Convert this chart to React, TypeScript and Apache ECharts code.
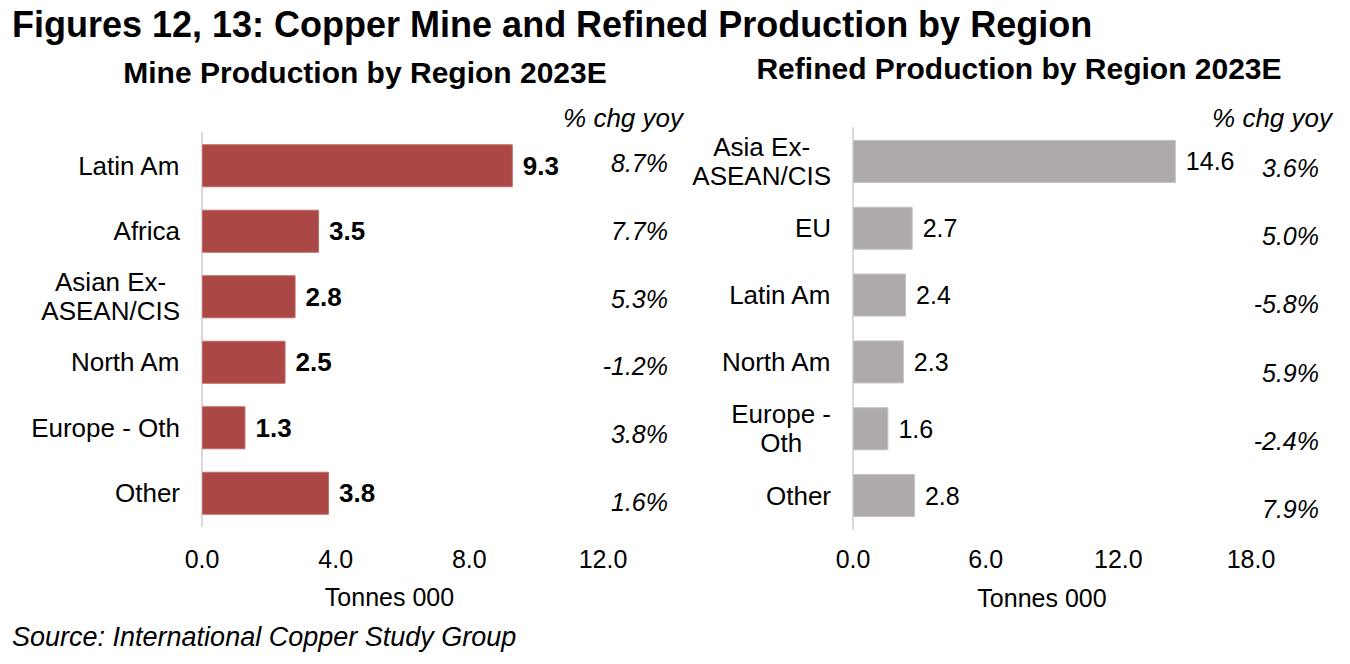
import React, { useEffect, useRef } from "react";
import * as echarts from "echarts";

const mineCategories = ["Latin Am", "Africa", "Asian Ex-\nASEAN/CIS", "North Am", "Europe - Oth", "Other"];
const mineValues = [9.3, 3.5, 2.8, 2.5, 1.3, 3.8];
const mineChange = ["8.7%", "7.7%", "5.3%", "-1.2%", "3.8%", "1.6%"];

const refinedCategories = ["Asia Ex-\nASEAN/CIS", "EU", "Latin Am", "North Am", "Europe -\nOth", "Other"];
const refinedValues = [14.6, 2.7, 2.4, 2.3, 1.6, 2.8];
const refinedChange = ["3.6%", "5.0%", "-5.8%", "5.9%", "-2.4%", "7.9%"];

const mineTicks = { min: 0, max: 12, interval: 4 };
const refinedTicks = { min: 0, max: 18, interval: 6 };

const FONT = '"Liberation Sans", Arial, Helvetica, sans-serif';

export default function App() {
  const ref = useRef<HTMLDivElement>(null);

  useEffect(() => {
    document.body.style.margin = "0";
    const chart = echarts.init(ref.current!, null, { renderer: "svg" });

    const catFormatter = (v: string) =>
      v
        .split("\n")
        .map((s) => `{c|${s}}`)
        .join("\n");

    const catLabel = {
      fontSize: 26,
      color: "#000",
      fontFamily: FONT,
      align: "right" as const,
      margin: 22,
      lineHeight: 29,
      formatter: catFormatter,
      rich: { c: { fontSize: 26, color: "#000", fontFamily: FONT, align: "center", lineHeight: 29 } },
    };

    const tickLabel = (margin: number) => ({
      fontSize: 25,
      color: "#000",
      fontFamily: FONT,
      margin,
      formatter: (v: number) => v.toFixed(1),
    });

    const option: any = {
      animation: false,
      backgroundColor: "#fff",
      textStyle: { fontFamily: FONT },
      grid: [
        { left: 202, top: 133, width: 401, height: 393 },
        { left: 853, top: 128, width: 398, height: 401 },
        { left: 668, top: 129, width: 1, height: 407 },
        { left: 1319, top: 134, width: 1, height: 409 },
      ],
      xAxis: [
        {
          type: "value",
          gridIndex: 0,
          ...mineTicks,
          axisLine: { show: false },
          axisTick: { show: false },
          splitLine: { show: false },
          axisLabel: tickLabel(20),
          name: "Tonnes 000",
          nameLocation: "middle",
          nameGap: 58,
          nameTextStyle: { fontSize: 25, color: "#000", fontFamily: FONT, padding: [0, 26, 0, 0] },
        },
        {
          type: "value",
          gridIndex: 1,
          ...refinedTicks,
          axisLine: { show: false },
          axisTick: { show: false },
          splitLine: { show: false },
          axisLabel: tickLabel(17),
          name: "Tonnes 000",
          nameLocation: "middle",
          nameGap: 56,
          nameTextStyle: { fontSize: 25, color: "#000", fontFamily: FONT, padding: [0, 20, 0, 0] },
        },
        { type: "value", gridIndex: 2, min: 0, max: 1, show: false },
        { type: "value", gridIndex: 3, min: 0, max: 1, show: false },
      ],
      yAxis: [
        {
          type: "category",
          gridIndex: 0,
          inverse: true,
          data: mineCategories,
          axisLine: { show: true, lineStyle: { color: "#d9d9d9", width: 2 } },
          axisTick: { show: false },
          axisLabel: catLabel,
        },
        {
          type: "category",
          gridIndex: 1,
          inverse: true,
          data: refinedCategories,
          axisLine: { show: true, lineStyle: { color: "#d9d9d9", width: 2 } },
          axisTick: { show: false },
          axisLabel: catLabel,
        },
        {
          type: "category",
          gridIndex: 2,
          inverse: true,
          data: mineChange,
          axisLine: { show: false },
          axisTick: { show: false },
          axisLabel: { fontSize: 25, fontStyle: "italic", color: "#000", fontFamily: FONT, align: "right", margin: 0 },
        },
        {
          type: "category",
          gridIndex: 3,
          inverse: true,
          data: refinedChange,
          axisLine: { show: false },
          axisTick: { show: false },
          axisLabel: { fontSize: 25, fontStyle: "italic", color: "#000", fontFamily: FONT, align: "right", margin: 0 },
        },
      ],
      series: [
        {
          type: "bar",
          xAxisIndex: 0,
          yAxisIndex: 0,
          data: mineValues,
          barWidth: 43,
          itemStyle: { color: "#ab4744", borderColor: "#c06a66", borderWidth: 1 },
          label: {
            show: true,
            position: "right",
            distance: 10,
            fontSize: 26,
            fontWeight: "bold",
            color: "#000",
            fontFamily: FONT,
            formatter: (p: any) => p.value.toFixed(1),
          },
        },
        {
          type: "bar",
          xAxisIndex: 1,
          yAxisIndex: 1,
          data: refinedValues,
          barWidth: 43,
          itemStyle: { color: "#aeaaaa", borderColor: "#c4c1c1", borderWidth: 1 },
          label: {
            show: true,
            position: "right",
            distance: 10,
            fontSize: 25,
            color: "#000",
            fontFamily: FONT,
            formatter: (p: any) => p.value.toFixed(1),
          },
        },
      ],
      graphic: [
        {
          type: "text",
          left: 12,
          top: 6,
          style: {
            text: "Figures 12, 13: Copper Mine and Refined Production by Region",
            font: `bold 36px ${FONT}`,
            fill: "#000",
          },
        },
        {
          type: "text",
          x: 365,
          y: 72,
          style: {
            text: "Mine Production by Region 2023E",
            font: `bold 30px ${FONT}`,
            fill: "#000",
            textAlign: "center",
            textVerticalAlign: "middle",
          },
        },
        {
          type: "text",
          x: 1019,
          y: 68,
          style: {
            text: "Refined Production by Region 2023E",
            font: `bold 30px ${FONT}`,
            fill: "#000",
            textAlign: "center",
            textVerticalAlign: "middle",
          },
        },
        {
          type: "text",
          x: 683,
          y: 118,
          style: {
            text: "% chg yoy",
            font: `italic 26px ${FONT}`,
            fill: "#000",
            textAlign: "right",
            textVerticalAlign: "middle",
          },
        },
        {
          type: "text",
          x: 1332,
          y: 118,
          style: {
            text: "% chg yoy",
            font: `italic 26px ${FONT}`,
            fill: "#000",
            textAlign: "right",
            textVerticalAlign: "middle",
          },
        },
        {
          type: "text",
          x: 12,
          y: 637,
          style: {
            text: "Source: International Copper Study Group",
            font: `italic 27px ${FONT}`,
            fill: "#000",
            textAlign: "left",
            textVerticalAlign: "middle",
          },
        },
      ],
    };

    chart.setOption(option);
    return () => chart.dispose();
  }, []);

  return <div ref={ref} style={{ width: 1350, height: 664 }} />;
}
